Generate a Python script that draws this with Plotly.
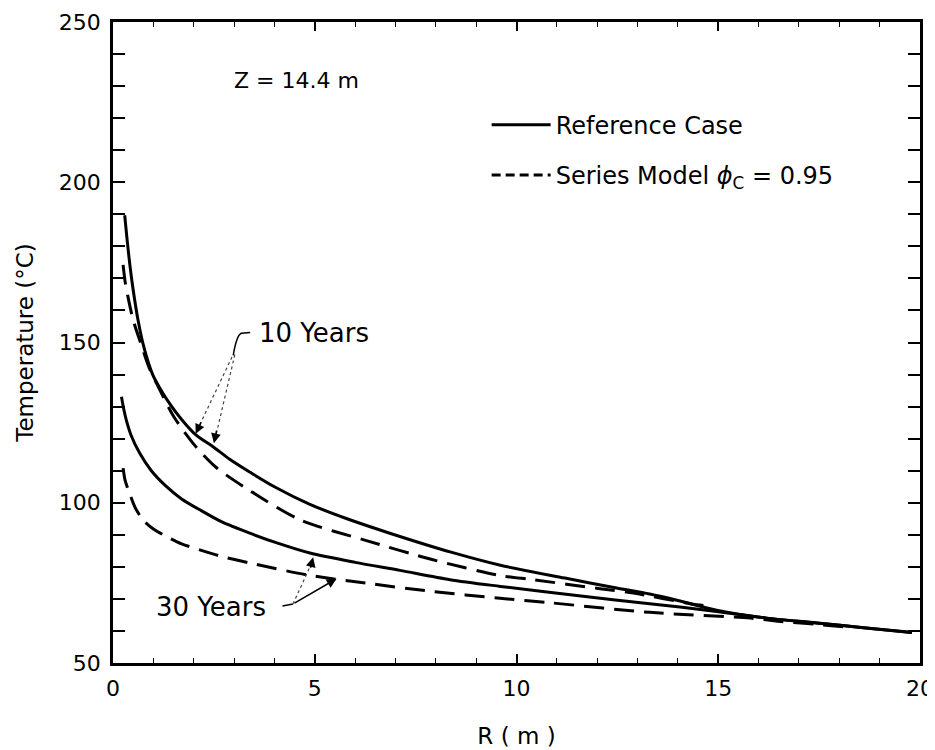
import plotly.graph_objects as go

# ---- data ----
R_ref10 = [0.29, 0.35, 0.42, 0.5, 0.62, 0.74, 0.87, 1.0, 1.16, 1.32, 1.7, 2.07, 2.48, 2.9, 3.4, 4.0,
           4.88, 5.8, 6.86, 8.4, 9.6, 11.2, 12.48, 13.3, 14.0, 14.96, 16.2, 17.44, 18.6, 19.8]
T_ref10 = [189.7, 182.0, 174.0, 166.4, 157.0, 149.8, 144.0, 139.5, 135.8, 132.5, 126.0, 121.0, 117.5,
           113.5, 109.5, 105.0, 99.5, 95.0, 90.5, 84.5, 80.5, 76.5, 73.4, 71.5, 69.5, 66.5, 64.0,
           62.5, 61.0, 59.5]

R_ser10 = [0.25, 0.3, 0.37, 0.5, 0.66, 0.9, 1.16, 1.5, 1.98, 2.56, 3.39, 4.63, 6.28, 7.93, 9.59,
           10.4, 12.07, 12.9, 14.47, 14.8]
T_ser10 = [174.2, 169.0, 164.3, 157.0, 150.8, 142.0, 135.2, 127.0, 118.6, 111.0, 103.8, 94.7, 88.2,
           82.2, 77.3, 76.0, 73.2, 71.8, 68.2, 67.8]

R_ref30 = [0.21, 0.27, 0.33, 0.45, 0.66, 0.95, 1.32, 1.7, 2.15, 2.7, 3.39, 4.1, 4.88, 6.0, 7.11,
           8.35, 9.6, 11.65, 13.3, 14.96, 16.2, 17.44, 18.6, 19.8]
T_ref30 = [133.1, 129.0, 125.8, 121.0, 115.5, 110.0, 105.1, 101.2, 97.8, 94.0, 90.5, 87.3, 84.3,
           81.4, 78.9, 76.0, 73.9, 70.8, 68.5, 66.1, 64.0, 62.5, 61.0, 59.5]

R_ser30 = [0.25, 0.3, 0.41, 0.55, 0.74, 1.0, 1.32, 1.7, 2.15, 2.7, 3.39, 4.8, 6.28, 7.93, 9.59,
           10.83, 13.3, 15.8, 16.6, 17.5, 18.2]
T_ser30 = [110.8, 107.0, 103.0, 98.5, 94.7, 91.8, 89.5, 87.2, 85.3, 83.2, 81.2, 77.5, 74.9, 72.3,
           70.2, 68.8, 65.8, 64.0, 62.9, 62.0, 61.2]

X_TICKS = [0, 5, 10, 15, 20]
Y_TICKS = [50, 100, 150, 200, 250]

FONT = "DejaVu Sans"
DASH = "20px,10px"

fig = go.Figure()

def curve(x, y, dashed):
    fig.add_trace(go.Scatter(
        x=x, y=y, mode="lines", showlegend=False, hoverinfo="skip",
        line=dict(color="black", width=3, dash=DASH if dashed else "solid",
                  shape="spline", smoothing=0.8)))

curve(R_ref10, T_ref10, False)
curve(R_ser10, T_ser10, True)
curve(R_ref30, T_ref30, False)
curve(R_ser30, T_ser30, True)

# legend-only entries
fig.add_trace(go.Scatter(x=[None], y=[None], mode="lines", name="Reference Case",
                         legendgroup="a", line=dict(color="black", width=3)))
fig.add_trace(go.Scatter(x=[None], y=[None], mode="lines",
                         name="Series Model <i>ϕ</i><sub>C</sub> = 0.95",
                         legendgroup="b", line=dict(color="black", width=3, dash="9px,5px")))

axis_common = dict(showline=True, linewidth=2.5, linecolor="black", mirror="ticks",
                   showgrid=False, zeroline=False, ticks="inside", tickcolor="black",
                   automargin=False,
                   tickfont=dict(family=FONT, size=22, color="black"))

fig.update_xaxes(range=[0, 20], tickvals=X_TICKS, ticklen=9, tickwidth=1.5, ticklabelstandoff=4,
                 minor=dict(dtick=1, ticks="inside", ticklen=5, tickwidth=1, tickcolor="black"),
                 title=dict(text="R ( m )", font=dict(family=FONT, size=23, color="black"), standoff=28),
                 **axis_common)
fig.update_yaxes(range=[50, 250], tickvals=Y_TICKS, ticklen=12, tickwidth=1.5, ticklabelstandoff=5,
                 minor=dict(dtick=10, ticks="inside", ticklen=12, tickwidth=1.5, tickcolor="black"),
                 title=dict(text="Temperature (°C)", font=dict(family=FONT, size=23, color="black"), standoff=19),
                 **axis_common)

annotations = [
    dict(x=4.55, y=231.8, text="Z = 14.4 m", showarrow=False, font=dict(size=22)),
    dict(x=3.56, y=153.1, text="10 Years", showarrow=False, xanchor="left", font=dict(size=26)),
    dict(x=2.44, y=67.6, text="30 Years", showarrow=False, font=dict(size=26)),
    # arrowheads (10 years)
    dict(x=2.05, y=121.5, ax=6, ay=-13, text="", showarrow=True, arrowhead=2, arrowsize=1.3,
         arrowwidth=1.5, arrowcolor="black"),
    dict(x=2.5, y=118.6, ax=3, ay=-14, text="", showarrow=True, arrowhead=2, arrowsize=1.3,
         arrowwidth=1.5, arrowcolor="black"),
    # 30 years arrows
    dict(x=5.54, y=76.3, ax=4.46, ay=68.4, axref="x", ayref="y", text="", showarrow=True,
         arrowhead=2, arrowsize=1.3, arrowwidth=1.5, arrowcolor="black"),
    dict(x=4.96, y=83.0, ax=-3, ay=12, text="", showarrow=True, arrowhead=2, arrowsize=1.3,
         arrowwidth=1.5, arrowcolor="black"),
]
for a in annotations:
    a.setdefault("xref", "x")
    a.setdefault("yref", "y")
    f = a.get("font", {})
    f.update(family=FONT, color="black")
    a["font"] = f

shapes = [
    # 10 years leader
    dict(type="path", path="M 3.40,153.1 L 3.18,152.9 Q 3.06,152.2 2.98,146.0",
         line=dict(color="black", width=1.5)),
    dict(type="line", x0=2.95, y0=145.5, x1=2.12, y1=123.5, line=dict(color="#444", width=1.2, dash="dot")),
    dict(type="line", x0=3.02, y0=146.2, x1=2.55, y1=121.0, line=dict(color="#444", width=1.2, dash="dot")),
    # 30 years leader
    dict(type="line", x0=4.2, y0=67.8, x1=4.46, y1=68.4, line=dict(color="black", width=1.5)),
    dict(type="line", x0=4.46, y0=68.4, x1=4.9, y1=80.5, line=dict(color="#444", width=1.2, dash="dot")),
]
for s in shapes:
    s["xref"] = "x"
    s["yref"] = "y"

# the page body adds an 8px margin, so the figure is sized to fit the 935x750 window
fig.update_layout(
    width=927, height=742,
    margin=dict(l=105, r=15, t=14, b=87),
    paper_bgcolor="white", plot_bgcolor="white",
    font=dict(family=FONT, color="black"),
    annotations=annotations, shapes=shapes,
    legend=dict(x=0.463, y=0.874, xanchor="left", yanchor="top", bgcolor="rgba(0,0,0,0)",
                font=dict(family=FONT, size=24, color="black"), tracegroupgap=16,
                traceorder="grouped", itemwidth=59),
    showlegend=True,
)

fig.write_html("out.html")
